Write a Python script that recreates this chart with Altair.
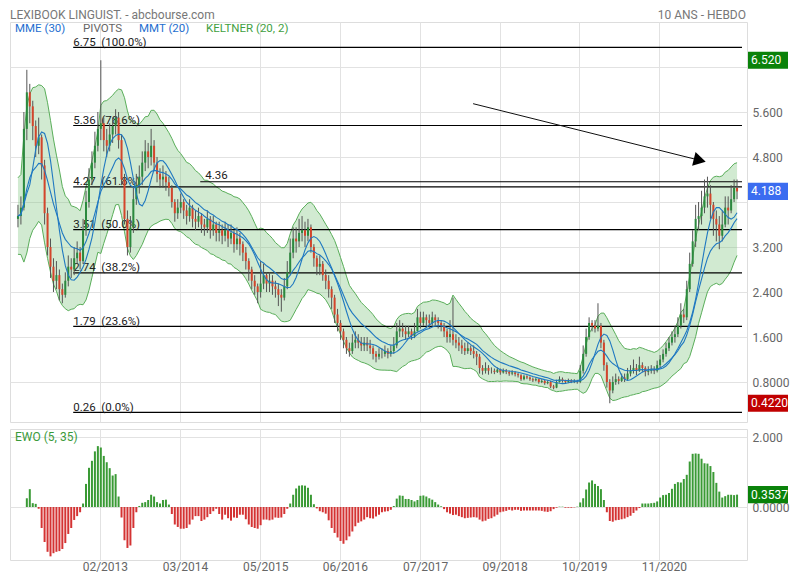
import altair as alt
import pandas as pd

FONT = "Roboto"

# ---------------- data ----------------
close_rows = [
    [3.75, 3.9, 5.3, 5.95, 5.7, 5.35, 5.0, 5.15, 4.65, 3.8],
    [3.2, 2.85, 2.6, 2.7, 2.45, 2.35, 2.6, 2.85, 2.8, 3.0],
    [3.1, 2.95, 3.5, 4.0, 4.4, 4.7, 5.0, 5.3, 5.4, 5.1],
    [5.0, 5.2, 5.35, 5.5, 5.1, 4.4, 3.7, 3.2, 3.55, 4.05],
    [4.3, 4.45, 4.7, 4.9, 4.8, 5.0, 4.7, 4.5, 4.4, 4.45],
    [4.35, 4.25, 4.0, 3.8, 3.9, 4.0, 3.85, 3.75, 3.9, 3.7],
    [3.65, 3.75, 3.6, 3.55, 3.7, 3.5, 3.6, 3.45, 3.5, 3.4],
    [3.5, 3.35, 3.45, 3.25, 3.35, 3.25, 3.1, 2.95, 2.8, 2.6],
    [2.5, 2.4, 2.55, 2.7, 2.55, 2.6, 2.5, 2.45, 2.35, 2.3],
    [2.5, 2.75, 3.1, 3.35, 3.3, 3.45, 3.5, 3.4, 3.55, 3.2],
    [3.0, 2.85, 2.9, 2.7, 2.6, 2.45, 2.3, 2.0, 1.85, 1.7],
    [1.55, 1.4, 1.35, 1.5, 1.55, 1.5, 1.45, 1.5, 1.45, 1.4],
    [1.3, 1.25, 1.3, 1.3, 1.35, 1.3, 1.35, 1.45, 1.7, 1.75],
    [1.7, 1.65, 1.7, 1.62, 1.7, 1.95, 1.85, 1.95, 1.9, 1.85],
    [1.95, 1.9, 1.85, 1.8, 1.7, 1.6, 1.65, 1.55, 1.5, 1.45],
    [1.4, 1.35, 1.4, 1.35, 1.3, 1.25, 1.05, 1.0, 1.05, 1.0],
    [1.0, 0.98, 1.02, 0.97, 1.0, 0.98, 0.95, 0.97, 0.94, 0.92],
    [0.85, 0.9, 0.88, 0.85, 0.83, 0.85, 0.8, 0.82, 0.78, 0.8],
    [0.72, 0.7, 0.8, 0.85, 0.82, 0.8, 0.83, 0.8, 0.82, 0.8],
    [1.0, 1.3, 1.6, 1.85, 1.8, 1.75, 1.8, 1.5, 1.1, 0.8],
    [0.65, 0.8, 0.85, 0.82, 0.88, 0.85, 0.95, 1.0, 1.05, 1.0],
    [1.1, 1.05, 0.98, 1.0, 1.02, 1.0, 1.1, 1.2, 1.3, 1.4],
    [1.5, 1.6, 1.65, 1.8, 2.0, 1.95, 2.45, 2.9, 3.3, 3.7],
    [3.75, 3.9, 4.1, 4.15, 3.95, 3.7, 3.6, 3.4, 3.6, 3.9],
    [3.85, 4.05, 4.25, 4.188],
]
high_rows = [
    [3.95, 4.1, 5.6, 6.35, 6.1, 5.8, 5.45, 5.5, 5.2, 4.75],
    [3.9, 3.35, 3.0, 2.95, 2.8, 2.55, 2.75, 3.05, 3.0, 3.2],
    [3.3, 3.2, 3.7, 4.2, 4.6, 4.9, 5.25, 5.6, 6.52, 5.5],
    [5.3, 5.4, 5.5, 5.65, 5.6, 5.2, 4.5, 3.85, 3.75, 4.25],
    [4.5, 4.65, 4.9, 5.1, 5.05, 5.3, 5.1, 4.8, 4.6, 4.65],
    [4.55, 4.45, 4.3, 4.05, 4.05, 4.15, 4.05, 3.95, 4.05, 3.95],
    [3.85, 3.9, 3.8, 3.7, 3.85, 3.75, 3.75, 3.65, 3.65, 3.6],
    [3.65, 3.6, 3.6, 3.5, 3.55, 3.45, 3.3, 3.2, 3.0, 2.85],
    [2.7, 2.55, 2.95, 2.9, 2.75, 2.75, 2.7, 2.6, 2.55, 2.45],
    [2.65, 2.95, 3.35, 3.55, 3.55, 3.7, 3.75, 3.65, 3.7, 3.6],
    [3.25, 3.05, 3.05, 2.95, 2.8, 2.7, 2.5, 2.35, 2.1, 1.9],
    [1.75, 1.6, 1.5, 1.65, 1.7, 1.65, 1.6, 1.6, 1.6, 1.55],
    [1.45, 1.35, 1.4, 1.4, 1.45, 1.4, 1.45, 1.6, 1.85, 1.9],
    [1.85, 1.8, 1.8, 1.75, 1.85, 2.1, 2.05, 2.05, 2.0, 2.0],
    [2.05, 2.0, 1.95, 1.9, 1.85, 1.75, 1.9, 2.3, 1.65, 1.6],
    [1.55, 1.5, 1.5, 1.45, 1.45, 1.35, 1.3, 1.1, 1.15, 1.1],
    [1.06, 1.04, 1.06, 1.04, 1.04, 1.03, 1.0, 1.01, 0.99, 0.96],
    [0.94, 0.93, 0.92, 0.9, 0.88, 0.88, 0.86, 0.85, 0.84, 0.83],
    [0.82, 0.75, 0.84, 0.9, 0.88, 0.84, 0.86, 0.85, 0.85, 0.84],
    [1.1, 1.45, 1.75, 1.95, 1.9, 1.9, 2.2, 1.85, 1.55, 1.15],
    [0.85, 0.9, 0.95, 0.9, 0.95, 0.95, 1.05, 1.1, 1.2, 1.12],
    [1.25, 1.15, 1.08, 1.08, 1.1, 1.08, 1.18, 1.28, 1.38, 1.5],
    [1.6, 1.7, 1.8, 1.95, 2.2, 2.1, 2.6, 3.1, 3.5, 3.95],
    [4.0, 4.2, 4.4, 4.45, 4.3, 4.0, 3.85, 3.75, 3.85, 4.1],
    [4.1, 4.3, 4.4, 4.4],
]
low_rows = [
    [3.55, 3.6, 3.85, 5.1, 5.4, 5.1, 4.8, 4.85, 4.4, 3.6],
    [3.05, 2.65, 2.4, 2.45, 2.25, 2.2, 2.3, 2.5, 2.65, 2.7],
    [2.9, 2.8, 2.9, 3.4, 3.9, 4.3, 4.6, 4.9, 5.1, 4.9],
    [4.8, 4.9, 5.05, 5.2, 4.95, 4.3, 3.6, 3.05, 3.1, 3.45],
    [3.95, 4.15, 4.3, 4.55, 4.6, 4.65, 4.55, 4.35, 4.25, 4.25],
    [4.2, 4.1, 3.9, 3.65, 3.7, 3.8, 3.7, 3.6, 3.65, 3.55],
    [3.5, 3.55, 3.45, 3.4, 3.45, 3.35, 3.4, 3.3, 3.3, 3.25],
    [3.3, 3.2, 3.25, 3.1, 3.15, 3.05, 2.95, 2.8, 2.6, 2.45],
    [2.35, 2.2, 2.3, 2.45, 2.4, 2.4, 2.35, 2.3, 2.15, 2.05],
    [2.25, 2.45, 2.7, 3.0, 3.1, 3.2, 3.3, 3.2, 3.3, 3.1],
    [2.85, 2.7, 2.7, 2.6, 2.45, 2.3, 2.1, 1.85, 1.7, 1.55],
    [1.4, 1.3, 1.25, 1.3, 1.4, 1.4, 1.35, 1.35, 1.35, 1.3],
    [1.2, 1.15, 1.2, 1.22, 1.25, 1.22, 1.25, 1.3, 1.4, 1.6],
    [1.6, 1.55, 1.6, 1.55, 1.58, 1.7, 1.75, 1.8, 1.8, 1.75],
    [1.8, 1.8, 1.75, 1.7, 1.6, 1.5, 1.5, 1.45, 1.4, 1.35],
    [1.3, 1.28, 1.3, 1.28, 1.22, 1.1, 0.95, 0.93, 0.95, 0.93],
    [0.95, 0.94, 0.96, 0.93, 0.95, 0.94, 0.91, 0.92, 0.9, 0.88],
    [0.82, 0.83, 0.85, 0.82, 0.8, 0.81, 0.77, 0.78, 0.75, 0.76],
    [0.69, 0.67, 0.69, 0.79, 0.79, 0.78, 0.78, 0.78, 0.78, 0.77],
    [0.78, 0.95, 1.25, 1.55, 1.7, 1.68, 1.7, 1.4, 1.0, 0.7],
    [0.422, 0.6, 0.75, 0.76, 0.8, 0.8, 0.83, 0.9, 0.95, 0.92],
    [0.98, 0.98, 0.9, 0.92, 0.95, 0.94, 0.97, 1.05, 1.15, 1.25],
    [1.35, 1.45, 1.5, 1.6, 1.75, 1.85, 1.9, 2.4, 2.85, 3.2],
    [3.5, 3.6, 3.8, 3.9, 3.7, 3.4, 3.3, 3.16, 3.3, 3.55],
    [3.6, 3.8, 4.0, 4.05],
]
ewo_rows = [
    [None, None, None, 0.25, 0.51, 0.11, 0.09, -0.05, -0.6, -1.0],
    [-1.28, -1.41, -1.32, -1.28, -1.26, -1.2, -1.03, -0.77, -0.6, -0.37],
    [-0.26, -0.15, 0.1, 0.66, 1.12, 1.32, 1.59, 1.74, 1.7, 1.46],
    [1.28, 1.11, 0.9, 0.94, 0.3, -0.3, -0.95, -1.17, -1.1, -0.6],
    [-0.15, 0.03, 0.12, 0.14, 0.2, 0.35, 0.3, 0.14, 0.1, 0.2],
    [0.21, 0.07, -0.2, -0.5, -0.57, -0.62, -0.62, -0.6, -0.5, -0.36],
    [-0.26, -0.26, -0.4, -0.36, -0.29, -0.2, -0.12, -0.05, -0.2, -0.36],
    [-0.22, -0.32, -0.39, -0.3, -0.31, -0.22, -0.22, -0.35, -0.5, -0.57],
    [-0.6, -0.62, -0.52, -0.36, -0.36, -0.38, -0.36, -0.3, -0.31, -0.3],
    [-0.2, -0.05, 0.1, 0.35, 0.53, 0.61, 0.62, 0.61, 0.55, 0.35],
    [0.08, -0.04, -0.12, -0.15, -0.19, -0.38, -0.6, -0.74, -0.87, -0.97],
    [-1.05, -0.95, -0.84, -0.7, -0.55, -0.45, -0.41, -0.36, -0.29, -0.32],
    [-0.33, -0.27, -0.22, -0.15, -0.13, -0.12, -0.08, 0.03, 0.24, 0.33],
    [0.32, 0.23, 0.23, 0.2, 0.16, 0.2, 0.32, 0.33, 0.3, 0.25],
    [0.21, 0.14, 0.07, 0.02, -0.06, -0.15, -0.19, -0.23, -0.22, -0.26],
    [-0.29, -0.32, -0.31, -0.3, -0.29, -0.3, -0.36, -0.41, -0.39, -0.34],
    [-0.32, -0.27, -0.22, -0.15, -0.13, -0.11, -0.08, -0.1, -0.08, -0.08],
    [-0.11, -0.1, -0.1, -0.1, -0.1, -0.1, -0.1, -0.11, -0.13, -0.14],
    [-0.12, -0.06, -0.02, 0.01, 0.01, -0.02, -0.02, -0.02, -0.01, 0.01],
    [0.13, 0.25, 0.5, 0.7, 0.76, 0.66, 0.6, 0.51, 0.2, -0.15],
    [-0.4, -0.42, -0.38, -0.37, -0.35, -0.33, -0.29, -0.25, -0.17, -0.1],
    [-0.03, 0.1, 0.1, 0.1, 0.11, 0.12, 0.16, 0.27, 0.34, 0.35],
    [0.4, 0.52, 0.66, 0.71, 0.7, 0.8, 0.92, 1.3, 1.52, 1.53],
    [1.52, 1.38, 1.25, 1.24, 1.17, 1.0, 0.69, 0.44, 0.27, 0.31],
    [0.35, 0.35, 0.34, 0.3537],
]
first_open = 3.7

x_tick_pos = [27.67, 54.77, 81.9, 108.77, 135.9, 162.77, 189.67, 216.57]
x_tick_labels = ["02/2013", "03/2014", "05/2015", "06/2016", "07/2017", "09/2018", "10/2019", "11/2020"]

fib_levels = [6.75, 5.36, 4.27, 3.51, 2.74, 1.79, 0.26]
fib_pcts = ["100.0%", "78.6%", "61.8%", "50.0%", "38.2%", "23.6%", "0.0%"]
fib_start = 18.67
pivot_level = 4.36
pivot_start = 61.6

arrow_i = [153.8, 230.4]
arrow_v = [5.748, 4.741]

last_high, last_close, last_low, last_ewo = 6.520, 4.188, 0.4220, 0.3537

# ---------------- build table ----------------
close = [v for r in close_rows for v in r]
high = [v for r in high_rows for v in r]
low = [v for r in low_rows for v in r]
ewo = [v for r in ewo_rows for v in r]
n = len(close)
opens = [first_open] + close[:-1]
high = [max(h, o, c) for h, o, c in zip(high, opens, close)]
low = [min(l, o, c) for l, o, c in zip(low, opens, close)]

df = pd.DataFrame({"i": list(range(n)), "open": opens, "close": close,
                   "high": high, "low": low, "ewo": ewo})
mid = df["close"].ewm(span=10, adjust=False).mean()
atr = (df["high"] - df["low"]).ewm(span=10, adjust=False).mean()
df["kup"] = mid + 1.7 * atr
df["klo"] = mid - 1.7 * atr
df["mme"] = df["close"].ewm(span=14, adjust=False).mean()
df["mmt"] = df["close"].rolling(5, min_periods=1).mean().rolling(5, min_periods=1).mean()

XDOM = [-1, 244.67]
W, H1, H2 = 737, 400, 131
Y1 = alt.Scale(domain=[0.0889, 7.2], nice=False, zero=False)
Y2 = alt.Scale(domain=[-1.514, 2.229], nice=False, zero=False)
XS = alt.Scale(domain=XDOM, nice=False, zero=False)

lab_js = "[" + ",".join("'%s'" % s for s in x_tick_labels) + "]"
pos_js = "[" + ",".join(str(p) for p in x_tick_pos) + "]"
x_axis_main = alt.Axis(values=x_tick_pos, labels=False, grid=True, ticks=False, domain=False, title=None)
x_axis_low = alt.Axis(values=x_tick_pos, grid=True, ticks=False, domain=False, title=None,
                      labelExpr=f"{lab_js}[indexof({pos_js}, datum.value)]",
                      labelPadding=1, labelOffset=5)
y_axis_main = alt.Axis(orient="right", values=[0.8, 1.6, 2.4, 3.2, 4.0, 4.8, 5.6, 6.4],
                       labelExpr="(datum.value == 6.4 || datum.value == 4) ? '' : format(datum.value, '.4r')",
                       title=None, ticks=False, domain=False, labelPadding=5)
y_axis_low = alt.Axis(orient="right", values=[0, 2],
                      labelExpr="datum.value == 0 ? '0.0000' : format(datum.value, '.4r')",
                      title=None, ticks=False, domain=False, labelPadding=5)


def X(field="i:Q", low_panel=False):
    return alt.X(field, scale=XS, axis=x_axis_low if low_panel else x_axis_main)


def YM(field):
    return alt.Y(field, scale=Y1, axis=y_axis_main)


def YL(field):
    return alt.Y(field, scale=Y2, axis=y_axis_low)


GREEN_C = "#2b8a3e"
RED_C = "#d4452b"
base = alt.Chart(df)

band = base.mark_area(color="#7cc47c", opacity=0.35).encode(x=X(), y=YM("klo:Q"), y2="kup:Q")
band_up = base.mark_line(color="#5aae5a", strokeWidth=1).encode(x=X(), y=YM("kup:Q"))
band_lo = base.mark_line(color="#5aae5a", strokeWidth=1).encode(x=X(), y=YM("klo:Q"))

fib_df = pd.DataFrame({"level": fib_levels,
                       "label": [f"{l:.2f}\u00a0 ({p})" for l, p in zip(fib_levels, fib_pcts)],
                       "x0": fib_start, "x1": XDOM[1]})
fib_rule = alt.Chart(fib_df).mark_rule(color="#000", strokeWidth=1.2).encode(
    x=X("x0:Q"), x2="x1:Q", y=YM("level:Q"))
fib_text = alt.Chart(fib_df).mark_text(align="left", baseline="alphabetic", dy=-1.5, fontSize=11.5,
                                       font=FONT, color="#222").encode(
    x=X("x0:Q"), y=YM("level:Q"), text="label:N")
piv_df = pd.DataFrame({"level": [pivot_level], "label": [f"{pivot_level:.2f}"],
                       "x0": [pivot_start], "x1": [XDOM[1]]})
piv_rule = alt.Chart(piv_df).mark_rule(color="#000", strokeWidth=1.2).encode(
    x=X("x0:Q"), x2="x1:Q", y=YM("level:Q"))
piv_text = alt.Chart(piv_df).mark_text(align="left", baseline="alphabetic", dx=5, dy=-2.5, fontSize=11.5,
                                       font=FONT, color="#222").encode(
    x=X("x0:Q"), y=YM("level:Q"), text="label:N")

wick = base.mark_rule(color="#555", strokeWidth=1).encode(x=X(), y=YM("low:Q"), y2="high:Q")
body = base.mark_bar(size=2).encode(
    x=X(), y=YM("open:Q"), y2="close:Q",
    color=alt.condition("datum.close >= datum.open", alt.value(GREEN_C), alt.value(RED_C)))

mme = base.mark_line(color="#1f78c1", strokeWidth=1.1).encode(x=X(), y=YM("mme:Q"))
mmt = base.mark_line(color="#1f78c1", strokeWidth=1.1).encode(x=X(), y=YM("mmt:Q"))

arrow_df = pd.DataFrame({"i": arrow_i, "v": arrow_v})
arrow_line = alt.Chart(arrow_df).mark_line(color="#111", strokeWidth=1).encode(x=X(), y=YM("v:Q"))
arrow_head = alt.Chart(arrow_df.tail(1)).mark_point(shape="triangle-right", filled=True, size=200,
                                                    angle=14, color="#000", opacity=1).encode(
    x=X(), y=YM("v:Q"))


def label(txt, x, y, color, size=12, align="left"):
    return alt.Chart(pd.DataFrame({"t": [txt]})).mark_text(
        align=align, baseline="middle", color=color, fontSize=size, font=FONT).encode(
        x=alt.value(x), y=alt.value(y), text="t:N")


BOX = "M-1,-0.43L1,-0.43L1,0.43L-1,0.43Z"


def box(value, txt, color, yenc):
    d = pd.DataFrame({"v": [value], "t": [txt]})
    c = alt.Chart(d)
    r = c.mark_point(shape=BOX, filled=True, size=1600, color=color, opacity=1).encode(
        x=alt.value(W + 21), y=yenc("v:Q"))
    t = c.mark_text(align="left", baseline="middle", color="white", fontSize=12, font=FONT).encode(
        x=alt.value(W + 4), y=yenc("v:Q"), text="t:N")
    return r + t


main = alt.layer(
    band, band_up, band_lo, fib_rule, fib_text, piv_rule, piv_text, wick, body, mme, mmt,
    arrow_line, arrow_head,
    label("MME (30)", 5, 6.5, "#1f6fd0", 11.5), label("PIVOTS", 73, 6.5, "#666", 11.5),
    label("MMT (20)", 129, 6.5, "#1f6fd0", 11.5), label("KELTNER (20, 2)", 196, 6.5, "#3f9f3f", 11.5),
    label("LEXIBOOK LINGUIST. - abcbourse.com", 0, -7.5, "#777", 12),
    label("10 ANS - HEBDO", W - 1, -7.5, "#777", 12, "right"),
    box(last_high, f"{last_high:.3f}", "#0a820a", YM),
    box(last_close, f"{last_close:.3f}", "#3b6cf0", YM),
    box(last_low, f"{last_low:.4f}", "#c00000", YM),
).properties(width=W, height=H1)

ewo_bars = base.transform_filter("isValid(datum.ewo)").mark_bar(size=2).encode(
    x=X(low_panel=True), y=YL("ewo:Q"), y2=alt.datum(0),
    color=alt.condition("datum.ewo >= 0", alt.value("#3a9a35"), alt.value("#d43333")))

lower = alt.layer(
    ewo_bars,
    label("EWO (5, 35)", 5, 8, "#3a9a3a"),
    box(last_ewo, f"{last_ewo:.4f}", "#0a820a", YL),
).properties(width=W, height=H2)

chart = alt.vconcat(main, lower, spacing=5).properties(
    padding={"left": 1, "top": 0, "right": 0, "bottom": 0}
).configure_view(stroke="#ddd", strokeWidth=1).configure_axis(
    gridColor="#e2e2e2", gridWidth=1, labelFont=FONT, labelFontSize=12, labelColor="#666"
).configure_concat(spacing=5)

chart.save("out.html", embed_options={"renderer": "svg", "actions": False})
